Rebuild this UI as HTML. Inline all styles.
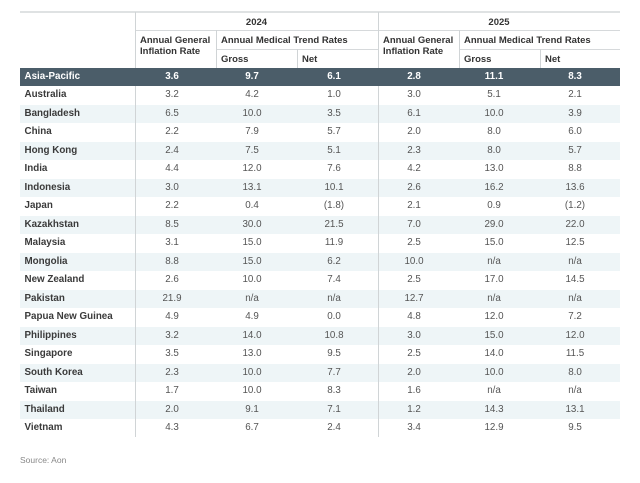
<!DOCTYPE html>
<html><head><meta charset="utf-8"><style>
body{margin:0;width:640px;height:483px;background:#fff;font-family:"Liberation Sans",Arial,sans-serif;position:relative;overflow:hidden}
.a{position:absolute}
.h{font-weight:bold;color:#333;font-size:9.5px;line-height:11px}
.row{position:absolute;left:20px;width:600px;height:18.5px}
.row span{position:absolute;top:0;line-height:18.5px;font-size:9.8px;color:#555;text-align:center;width:60px;margin-left:-20px}
.row span.l{left:4.5px;text-align:left;width:120px;font-weight:bold;color:#3a3a3a;margin-left:0}
.dark span{color:#fff!important;font-weight:bold}
.vl{position:absolute;width:1px;background:#d0d4d6}
.hl{position:absolute;height:1px;background:#d6d9db}
</style></head><body>
<div class="hl" style="left:20px;width:600px;top:11px;height:2px;background:#dfe2e3"></div>
<div class="hl" style="left:135px;width:485px;top:30px"></div>
<div class="hl" style="left:216px;width:162px;top:49px"></div>
<div class="hl" style="left:459px;width:161px;top:49px"></div>
<div class="vl" style="left:135px;top:12px;height:425px"></div>
<div class="vl" style="left:378px;top:12px;height:425px"></div>
<div class="vl" style="left:216px;top:30px;height:38px"></div>
<div class="vl" style="left:459px;top:30px;height:38px"></div>
<div class="vl" style="left:297px;top:49px;height:19px"></div>
<div class="vl" style="left:540px;top:49px;height:19px"></div>
<div class="a h" style="left:135px;width:243px;text-align:center;top:17px">2024</div>
<div class="a h" style="left:378px;width:242px;text-align:center;top:17px">2025</div>
<div class="a h" style="left:140px;top:35px">Annual General<br>Inflation Rate</div>
<div class="a h" style="left:221px;top:35px">Annual Medical Trend Rates</div>
<div class="a h" style="left:221px;top:54px">Gross</div>
<div class="a h" style="left:302px;top:54px">Net</div>
<div class="a h" style="left:383px;top:35px">Annual General<br>Inflation Rate</div>
<div class="a h" style="left:464px;top:35px">Annual Medical Trend Rates</div>
<div class="a h" style="left:464px;top:54px">Gross</div>
<div class="a h" style="left:545px;top:54px">Net</div>
<div class="row dark" style="top:68px;background:#4b5d69;height:18px"><span class="l" style="line-height:18px">Asia-Pacific</span><span style="left:142px;line-height:18px">3.6</span><span style="left:222px;line-height:18px">9.7</span><span style="left:304px;line-height:18px">6.1</span><span style="left:384px;line-height:18px">2.8</span><span style="left:464px;line-height:18px">11.1</span><span style="left:545px;line-height:18px">8.3</span></div>
<div class="row" style="top:86px"><span class="l">Australia</span><span style="left:142px">3.2</span><span style="left:222px">4.2</span><span style="left:304px">1.0</span><span style="left:384px">3.0</span><span style="left:464px">5.1</span><span style="left:545px">2.1</span></div>
<div class="row" style="top:104.5px;background:#eef5f7"><span class="l">Bangladesh</span><span style="left:142px">6.5</span><span style="left:222px">10.0</span><span style="left:304px">3.5</span><span style="left:384px">6.1</span><span style="left:464px">10.0</span><span style="left:545px">3.9</span></div>
<div class="row" style="top:123px"><span class="l">China</span><span style="left:142px">2.2</span><span style="left:222px">7.9</span><span style="left:304px">5.7</span><span style="left:384px">2.0</span><span style="left:464px">8.0</span><span style="left:545px">6.0</span></div>
<div class="row" style="top:141.5px;background:#eef5f7"><span class="l">Hong Kong</span><span style="left:142px">2.4</span><span style="left:222px">7.5</span><span style="left:304px">5.1</span><span style="left:384px">2.3</span><span style="left:464px">8.0</span><span style="left:545px">5.7</span></div>
<div class="row" style="top:160px"><span class="l">India</span><span style="left:142px">4.4</span><span style="left:222px">12.0</span><span style="left:304px">7.6</span><span style="left:384px">4.2</span><span style="left:464px">13.0</span><span style="left:545px">8.8</span></div>
<div class="row" style="top:178.5px;background:#eef5f7"><span class="l">Indonesia</span><span style="left:142px">3.0</span><span style="left:222px">13.1</span><span style="left:304px">10.1</span><span style="left:384px">2.6</span><span style="left:464px">16.2</span><span style="left:545px">13.6</span></div>
<div class="row" style="top:197px"><span class="l">Japan</span><span style="left:142px">2.2</span><span style="left:222px">0.4</span><span style="left:304px">(1.8)</span><span style="left:384px">2.1</span><span style="left:464px">0.9</span><span style="left:545px">(1.2)</span></div>
<div class="row" style="top:215.5px;background:#eef5f7"><span class="l">Kazakhstan</span><span style="left:142px">8.5</span><span style="left:222px">30.0</span><span style="left:304px">21.5</span><span style="left:384px">7.0</span><span style="left:464px">29.0</span><span style="left:545px">22.0</span></div>
<div class="row" style="top:234px"><span class="l">Malaysia</span><span style="left:142px">3.1</span><span style="left:222px">15.0</span><span style="left:304px">11.9</span><span style="left:384px">2.5</span><span style="left:464px">15.0</span><span style="left:545px">12.5</span></div>
<div class="row" style="top:252.5px;background:#eef5f7"><span class="l">Mongolia</span><span style="left:142px">8.8</span><span style="left:222px">15.0</span><span style="left:304px">6.2</span><span style="left:384px">10.0</span><span style="left:464px">n/a</span><span style="left:545px">n/a</span></div>
<div class="row" style="top:271px"><span class="l">New Zealand</span><span style="left:142px">2.6</span><span style="left:222px">10.0</span><span style="left:304px">7.4</span><span style="left:384px">2.5</span><span style="left:464px">17.0</span><span style="left:545px">14.5</span></div>
<div class="row" style="top:289.5px;background:#eef5f7"><span class="l">Pakistan</span><span style="left:142px">21.9</span><span style="left:222px">n/a</span><span style="left:304px">n/a</span><span style="left:384px">12.7</span><span style="left:464px">n/a</span><span style="left:545px">n/a</span></div>
<div class="row" style="top:308px"><span class="l">Papua New Guinea</span><span style="left:142px">4.9</span><span style="left:222px">4.9</span><span style="left:304px">0.0</span><span style="left:384px">4.8</span><span style="left:464px">12.0</span><span style="left:545px">7.2</span></div>
<div class="row" style="top:326.5px;background:#eef5f7"><span class="l">Philippines</span><span style="left:142px">3.2</span><span style="left:222px">14.0</span><span style="left:304px">10.8</span><span style="left:384px">3.0</span><span style="left:464px">15.0</span><span style="left:545px">12.0</span></div>
<div class="row" style="top:345px"><span class="l">Singapore</span><span style="left:142px">3.5</span><span style="left:222px">13.0</span><span style="left:304px">9.5</span><span style="left:384px">2.5</span><span style="left:464px">14.0</span><span style="left:545px">11.5</span></div>
<div class="row" style="top:363.5px;background:#eef5f7"><span class="l">South Korea</span><span style="left:142px">2.3</span><span style="left:222px">10.0</span><span style="left:304px">7.7</span><span style="left:384px">2.0</span><span style="left:464px">10.0</span><span style="left:545px">8.0</span></div>
<div class="row" style="top:382px"><span class="l">Taiwan</span><span style="left:142px">1.7</span><span style="left:222px">10.0</span><span style="left:304px">8.3</span><span style="left:384px">1.6</span><span style="left:464px">n/a</span><span style="left:545px">n/a</span></div>
<div class="row" style="top:400.5px;background:#eef5f7"><span class="l">Thailand</span><span style="left:142px">2.0</span><span style="left:222px">9.1</span><span style="left:304px">7.1</span><span style="left:384px">1.2</span><span style="left:464px">14.3</span><span style="left:545px">13.1</span></div>
<div class="row" style="top:419px"><span class="l">Vietnam</span><span style="left:142px">4.3</span><span style="left:222px">6.7</span><span style="left:304px">2.4</span><span style="left:384px">3.4</span><span style="left:464px">12.9</span><span style="left:545px">9.5</span></div>
<div class="vl" style="left:135px;top:86px;height:351px;z-index:2"></div>
<div class="vl" style="left:378px;top:86px;height:351px;z-index:2"></div>
<div class="a" style="left:20px;top:455px;font-size:8.5px;color:#888">Source: Aon</div>
</body></html>
